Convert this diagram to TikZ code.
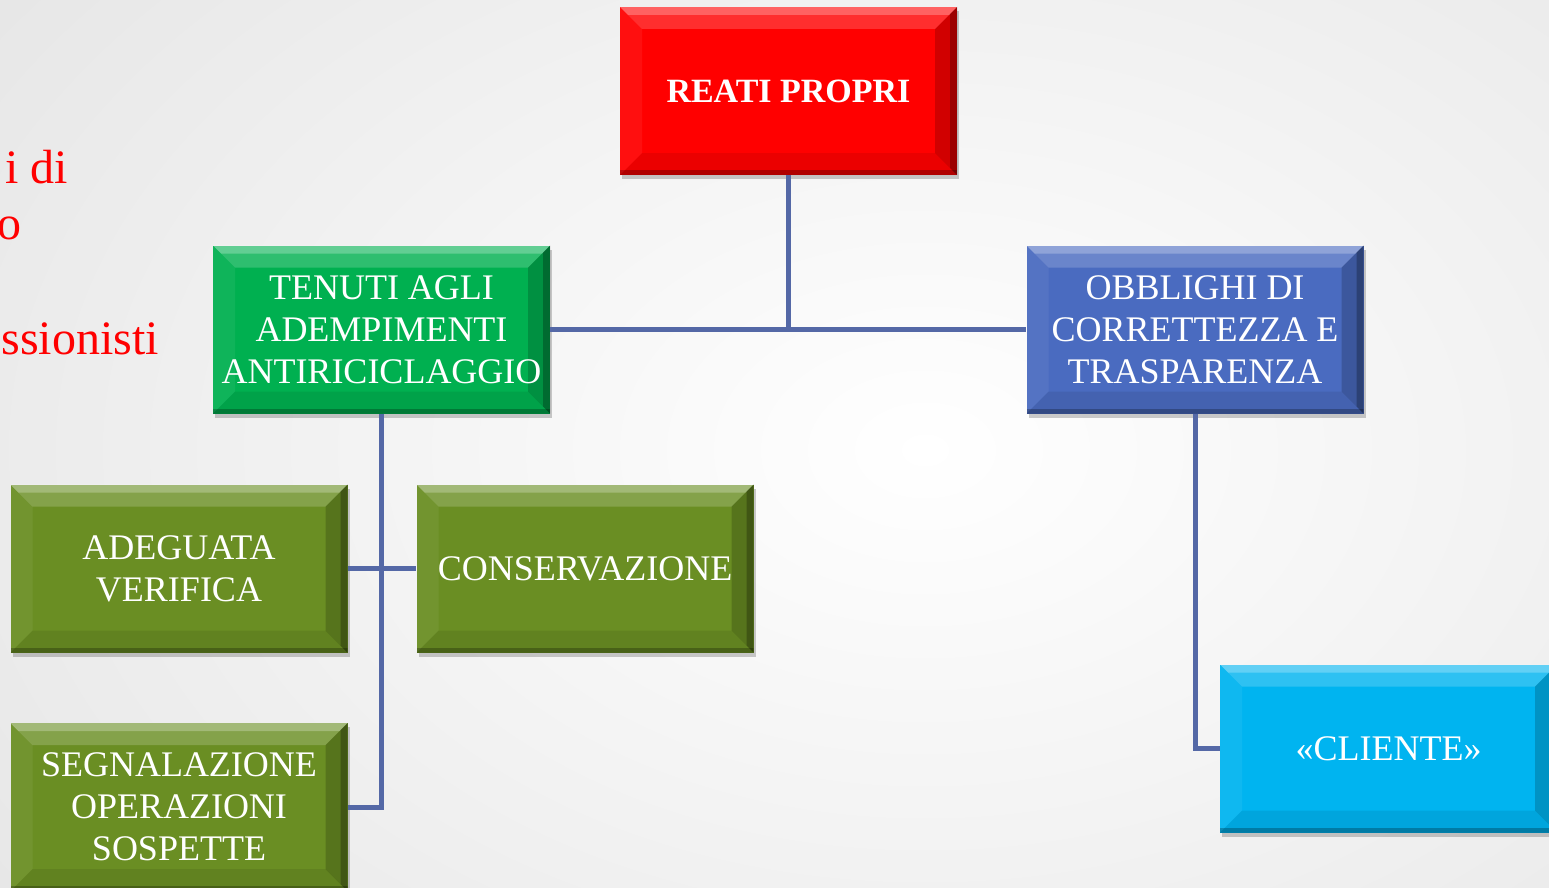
\documentclass[tikz,border=0pt]{standalone}
\usepackage{fontspec}
\setmainfont{Liberation Serif}
\usetikzlibrary{shadows}
\definecolor{bgedge}{HTML}{E6E6E6}
\definecolor{cred}{HTML}{FF0000}
\definecolor{cgreen}{HTML}{00B050}
\definecolor{cblue}{HTML}{4A6BC0}
\definecolor{colive}{HTML}{6A8E23}
\definecolor{ccyan}{HTML}{00B4F0}
\definecolor{cconn}{HTML}{5468A6}
\definecolor{ctext}{HTML}{FF0000}
\tikzset{
  bevel/.style={fill=#1, draw=none, text=white, minimum width=337pt, minimum height=168pt,
    inner sep=0pt, align=center, font=\fontsize{36}{42}\selectfont,
    drop shadow={shadow xshift=2pt, shadow yshift=-4pt, opacity=0.2, fill=black},
    path picture={
      \fill[white,opacity=0.18] (path picture bounding box.north west) -- (path picture bounding box.north east)
        -- ([xshift=-22pt,yshift=-22pt]path picture bounding box.north east)
        -- ([xshift=22pt,yshift=-22pt]path picture bounding box.north west) -- cycle;
      \fill[white,opacity=0.25] (path picture bounding box.north west) -- (path picture bounding box.north east)
        -- ([xshift=-8pt,yshift=-8pt]path picture bounding box.north east)
        -- ([xshift=8pt,yshift=-8pt]path picture bounding box.north west) -- cycle;
      \fill[white,opacity=0.06] (path picture bounding box.north west) -- (path picture bounding box.south west)
        -- ([xshift=22pt,yshift=22pt]path picture bounding box.south west)
        -- ([xshift=22pt,yshift=-22pt]path picture bounding box.north west) -- cycle;
      \fill[black,opacity=0.18] (path picture bounding box.north east) -- (path picture bounding box.south east)
        -- ([xshift=-22pt,yshift=22pt]path picture bounding box.south east)
        -- ([xshift=-22pt,yshift=-22pt]path picture bounding box.north east) -- cycle;
      \fill[black,opacity=0.25] (path picture bounding box.north east) -- (path picture bounding box.south east)
        -- ([xshift=-7pt,yshift=7pt]path picture bounding box.south east)
        -- ([xshift=-7pt,yshift=-7pt]path picture bounding box.north east) -- cycle;
      \fill[black,opacity=0.08] (path picture bounding box.south west) -- (path picture bounding box.south east)
        -- ([xshift=-22pt,yshift=22pt]path picture bounding box.south east)
        -- ([xshift=22pt,yshift=22pt]path picture bounding box.south west) -- cycle;
      \fill[black,opacity=0.25] ([yshift=5pt]path picture bounding box.south west) rectangle (path picture bounding box.south east);
    }},
  conn/.style={draw=cconn, line width=5pt, line join=miter},
  side/.style={text=ctext, anchor=base east, inner sep=0pt, font=\fontsize{48}{57}\selectfont}
}
\begin{document}
\begin{tikzpicture}[x=1pt,y=-1pt]
\useasboundingbox (0,0) rectangle (1549,888);
\clip (0,0) rectangle (1549,888);
\shade[inner color=white, outer color=bgedge] (-250,-350) rectangle (2100,1250);

\node[side] (l1) at (68,183) {i di};
\node[side] (l2) at (22,239) {o};
\node[side] (l3) at (159,354) {ssionisti};

\node[bevel=cred, font=\bfseries\fontsize{34}{42}\selectfont] (reati) at (788.5,91) {REATI PROPRI};
\node[bevel=cgreen] (tenuti) at (381.5,329.5) {TENUTI AGLI\\ADEMPIMENTI\\ANTIRICICLAGGIO};
\node[bevel=cblue] (obblighi) at (1195,329.5) {OBBLIGHI DI\\CORRETTEZZA E\\TRASPARENZA};
\node[bevel=colive] (adeguata) at (179,568.5) {ADEGUATA\\VERIFICA};
\node[bevel=colive] (conserv) at (585,568.5) {CONSERVAZIONE};
\node[bevel=colive] (segnal) at (179,807) {SEGNALAZIONE\\OPERAZIONI\\SOSPETTE};
\node[bevel=ccyan] (cliente) at (1388.5,748.5) {«CLIENTE»};

\draw[conn] (reati.south) -- (reati.south |- tenuti.east);
\draw[conn] (tenuti.east) -- (obblighi.west);
\draw[conn] (tenuti.south) |- (segnal.east);
\draw[conn] (adeguata.east) -- (conserv.west);
\draw[conn] (obblighi.south) |- (cliente.west);
\end{tikzpicture}
\end{document}
